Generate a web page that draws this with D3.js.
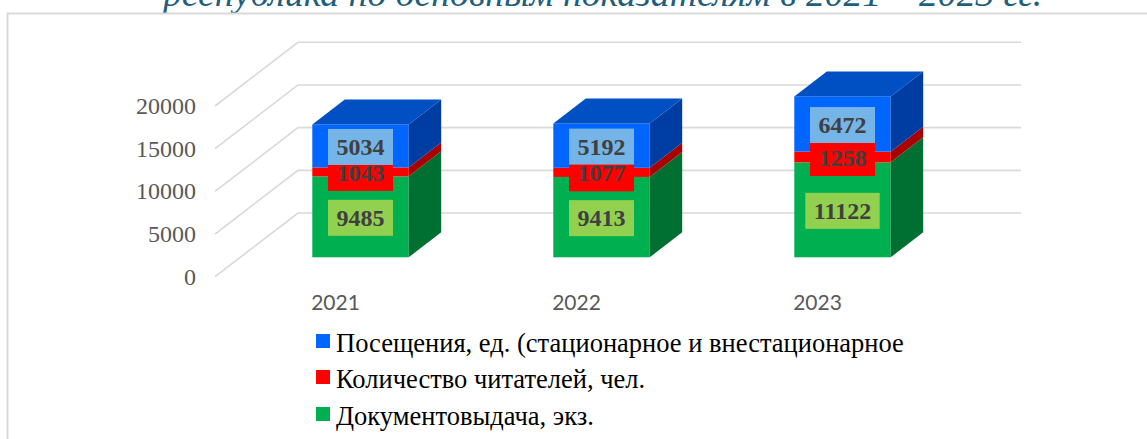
<!DOCTYPE html>
<html>
<head>
<meta charset="utf-8">
<script src="https://cdn.jsdelivr.net/npm/d3@7"></script>
<style>
  html, body { margin: 0; padding: 0; background: #fff; }
  svg { display: block; font-family: "Liberation Serif", serif; }
</style>
</head>
<body>
<div id="chart"></div>
<script>
const years = ['2021', '2022', '2023'];
const visits = [5034, 5192, 6472];
const readers = [1043, 1077, 1258];
const loans = [9485, 9413, 11122];
const yTicks = [0, 5000, 10000, 15000, 20000];
const legendLabels = [
    'Посещения, ед. (стационарное и внестационарное',
    'Количество читателей, чел.',
    'Документовыдача, экз.'
];
const titleText = 'республика по основным показателям в 2021 – 2023 гг.';

const width = 1147;
const height = 439;

// floor runs from the front edge back to the wall
const wallDx = 83, wallDy = 63.7;
const barDx = 25, barDy = 19.4;
const depthDx = 32.5, depthDy = 25;

const x = d3.scaleBand().domain(years).range([215, 938]).paddingInner(0.6).paddingOuter(0.3);
const y = d3.scaleLinear().domain([0, 20000]).range([276.7, 106]);

const svg = d3.select('#chart').append('svg')
    .attr('width', width)
    .attr('height', height);

svg.append('text')
    .attr('x', 163)
    .attr('y', 5.5)
    .attr('font-size', 37.7)
    .attr('font-style', 'italic')
    .attr('fill', '#1f5f7d')
    .text(titleText);

svg.append('path')
    .attr('d', `M7.5,${height}V13.5H${width}`)
    .attr('fill', 'none')
    .attr('stroke', '#d9d9d9')
    .attr('stroke-width', 2);

// wall and floor grid
svg.append('g').selectAll('path')
    .data(yTicks)
    .enter().append('path')
    .attr('d', d => `M215,${y(d)}L${215 + wallDx},${y(d) - wallDy}H1021`)
    .attr('fill', 'none')
    .attr('stroke', '#d9d9d9')
    .attr('stroke-width', 1.6);

const yAxis = svg.append('g')
    .attr('transform', 'translate(196,0)')
    .call(d3.axisLeft(y).tickValues(yTicks).tickSize(0).tickPadding(0).tickFormat(d3.format('d')));
yAxis.select('.domain').remove();
yAxis.selectAll('text')
    .attr('dy', 7.5)
    .style('font-family', '"Liberation Serif", serif')
    .style('font-size', '24px')
    .attr('fill', '#595959');

const xAxis = svg.append('g')
    .attr('transform', 'translate(0,276.7)')
    .call(d3.axisBottom(d3.scaleBand().domain(years).range([215, 938])).tickSize(0).tickPadding(0));
xAxis.select('.domain').remove();
xAxis.selectAll('text')
    .attr('y', 33)
    .attr('dy', 0)
    .style('font-family', 'Lato, sans-serif')
    .style('font-size', '21px')
    .attr('fill', '#595959');

const series = [
    { values: loans, front: '#00b050', side: '#006f32', top: '#006f32', box: '#92d050' },
    { values: readers, front: '#ff0000', side: '#a80000', top: '#a80000', box: '#ff0000' },
    { values: visits, front: '#0066ff', side: '#003da3', top: '#0050c4', box: '#75b4e6' }
];

const bars = svg.append('g');
const labels = svg.append('g');

years.forEach((year, i) => {
    const x0 = x(year) + barDx;
    const x1 = x0 + x.bandwidth();
    let base = 0;
    series.forEach((s, k) => {
        const y0 = y(base) - barDy;
        const y1 = y(base + s.values[i]) - barDy;
        bars.append('rect')
            .attr('x', x0)
            .attr('y', y1)
            .attr('width', x1 - x0)
            .attr('height', y0 - y1)
            .attr('fill', s.front);
        bars.append('path')
            .attr('d', `M${x1},${y0}L${x1 + depthDx},${y0 - depthDy}V${y1 - depthDy}L${x1},${y1}Z`)
            .attr('fill', s.side);
        if (k === series.length - 1) {
            bars.append('path')
                .attr('d', `M${x0},${y1}L${x0 + depthDx},${y1 - depthDy}H${x1 + depthDx}L${x1},${y1}Z`)
                .attr('fill', s.top);
        }
        s.labelY = (y0 + y1) / 2 + 1;
        base += s.values[i];
    });

    const cx = (x0 + x1) / 2;
    series.forEach(s => {
        const box = labels.append('rect').attr('fill', s.box);
        const t = labels.append('text')
            .attr('x', cx)
            .attr('y', s.labelY + 8)
            .attr('text-anchor', 'middle')
            .attr('font-size', 24)
            .attr('font-weight', 'bold')
            .attr('fill', '#404040')
            .text(s.values[i]);
        const w = t.node().getComputedTextLength() + 17;
        box.attr('x', cx - w / 2)
            .attr('y', s.labelY - 18)
            .attr('width', w)
            .attr('height', 36);
    });
    // text stays above every box
    labels.selectAll('text').raise();
});

const legend = svg.append('g').selectAll('g')
    .data(legendLabels)
    .enter().append('g')
    .attr('transform', (d, i) => `translate(316,${[334, 370, 407][i]})`);

legend.append('rect')
    .attr('width', 14)
    .attr('height', 14)
    .attr('fill', (d, i) => ['#0066ff', '#ff0000', '#00b050'][i]);

legend.append('text')
    .attr('x', 20)
    .attr('y', 18)
    .attr('font-size', 26.5)
    .attr('fill', '#000')
    .text(d => d);
</script>
</body>
</html>
